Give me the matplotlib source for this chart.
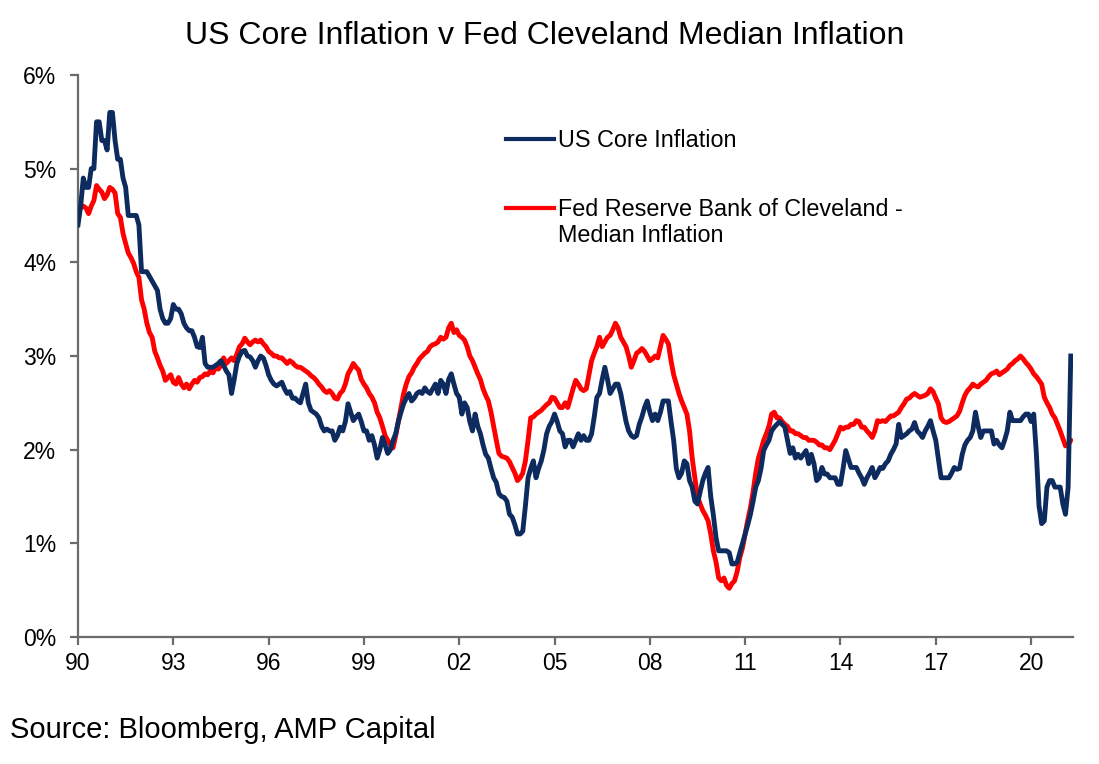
import numpy as np
import matplotlib
matplotlib.use("Agg")
import matplotlib.pyplot as plt
from matplotlib.lines import Line2D

# ---------------- data (monthly, Jan 1990 - Apr 2021, % y/y) ----------------
core_inflation = [
    4.4, 4.6, 4.9, 4.8, 4.8, 5.0, 5.0, 5.5, 5.5, 5.3, 5.3, 5.2,          # 1990
    5.6, 5.6, 5.3, 5.1, 5.1, 4.9, 4.8, 4.5, 4.5, 4.5, 4.5, 4.4,          # 1991
    3.9, 3.9, 3.9, 3.85, 3.8, 3.75, 3.7, 3.5, 3.4, 3.35, 3.35, 3.4,      # 1992
    3.55, 3.5, 3.5, 3.45, 3.35, 3.3, 3.27, 3.27, 3.2, 3.1, 3.09, 3.2,    # 1993
    2.92, 2.88, 2.88, 2.88, 2.9, 2.92, 2.95, 2.9, 2.84, 2.8, 2.6, 2.75,  # 1994
    2.92, 3.0, 3.05, 3.06, 3.0, 2.99, 2.95, 2.88, 2.95, 3.0, 2.98, 2.9,  # 1995
    2.8, 2.74, 2.7, 2.68, 2.7, 2.72, 2.65, 2.6, 2.62, 2.55, 2.55, 2.52,  # 1996
    2.5, 2.6, 2.7, 2.5, 2.42, 2.4, 2.38, 2.34, 2.25, 2.2, 2.22, 2.2,     # 1997
    2.2, 2.1, 2.15, 2.24, 2.2, 2.3, 2.49, 2.4, 2.31, 2.35, 2.38, 2.3,    # 1998
    2.2, 2.2, 2.1, 2.15, 2.05, 1.91, 2.0, 2.13, 2.05, 1.96, 2.0, 2.1,    # 1999
    2.17, 2.3, 2.4, 2.49, 2.55, 2.6, 2.52, 2.55, 2.6, 2.62, 2.6, 2.66,   # 2000
    2.62, 2.6, 2.65, 2.7, 2.6, 2.74, 2.7, 2.6, 2.75, 2.81, 2.7, 2.6,     # 2001
    2.56, 2.38, 2.5, 2.45, 2.3, 2.2, 2.38, 2.25, 2.17, 2.05, 1.95, 1.91, # 2002
    1.8, 1.7, 1.65, 1.53, 1.5, 1.49, 1.45, 1.31, 1.28, 1.2, 1.1, 1.1,    # 2003
    1.13, 1.4, 1.7, 1.8, 1.88, 1.7, 1.8, 1.88, 2.0, 2.17, 2.25, 2.3,     # 2004
    2.38, 2.3, 2.2, 2.17, 2.03, 2.1, 2.1, 2.03, 2.1, 2.17, 2.1, 2.15,    # 2005
    2.1, 2.1, 2.17, 2.35, 2.56, 2.6, 2.75, 2.88, 2.75, 2.6, 2.65, 2.7,   # 2006
    2.7, 2.6, 2.45, 2.3, 2.2, 2.15, 2.13, 2.15, 2.27, 2.35, 2.45, 2.52,  # 2007
    2.4, 2.31, 2.38, 2.31, 2.4, 2.52, 2.52, 2.52, 2.3, 2.1, 1.8, 1.7,    # 2008
    1.75, 1.88, 1.85, 1.67, 1.6, 1.45, 1.42, 1.55, 1.67, 1.75, 1.81, 1.5,# 2009
    1.3, 1.06, 0.92, 0.92, 0.92, 0.92, 0.9, 0.78, 0.78, 0.8, 0.9, 1.0,   # 2010
    1.1, 1.2, 1.31, 1.45, 1.6, 1.67, 1.8, 1.99, 2.05, 2.1, 2.2, 2.24,    # 2011
    2.27, 2.3, 2.27, 2.24, 2.1, 1.96, 2.02, 1.91, 1.95, 1.91, 1.95, 1.99,# 2012
    1.85, 1.95, 1.85, 1.67, 1.7, 1.81, 1.74, 1.74, 1.7, 1.7, 1.7, 1.63,  # 2013
    1.63, 1.8, 1.99, 1.9, 1.81, 1.81, 1.81, 1.75, 1.7, 1.63, 1.7, 1.75,  # 2014
    1.81, 1.7, 1.75, 1.81, 1.8, 1.85, 1.88, 1.95, 2.0, 2.06, 2.27, 2.13, # 2015
    2.15, 2.17, 2.2, 2.22, 2.29, 2.2, 2.17, 2.13, 2.2, 2.25, 2.31, 2.2,  # 2016
    2.1, 1.9, 1.7, 1.7, 1.7, 1.7, 1.75, 1.81, 1.79, 1.8, 1.95, 2.05,     # 2017
    2.1, 2.13, 2.2, 2.4, 2.25, 2.13, 2.2, 2.2, 2.2, 2.2, 2.06, 2.1,      # 2018
    2.05, 2.02, 2.1, 2.2, 2.4, 2.31, 2.31, 2.31, 2.31, 2.35, 2.38, 2.38, # 2019
    2.3, 2.38, 1.96, 1.4, 1.21, 1.24, 1.6, 1.67, 1.67, 1.6, 1.6, 1.6,    # 2020
    1.42, 1.31, 1.6, 3.0,                                                # 2021
]

median_inflation = [
    4.55, 4.58, 4.6, 4.58, 4.52, 4.6, 4.66, 4.82, 4.78, 4.75, 4.68, 4.72, # 1990
    4.8, 4.78, 4.74, 4.52, 4.48, 4.31, 4.2, 4.1, 4.05, 3.99, 3.9, 3.84,   # 1991
    3.6, 3.5, 3.35, 3.25, 3.2, 3.05, 2.98, 2.9, 2.84, 2.74, 2.77, 2.8,    # 1992
    2.72, 2.7, 2.77, 2.7, 2.66, 2.7, 2.65, 2.7, 2.74, 2.72, 2.77, 2.78,   # 1993
    2.81, 2.8, 2.84, 2.82, 2.88, 2.86, 2.9, 2.98, 2.92, 2.95, 2.98, 2.95, # 1994
    3.02, 3.1, 3.13, 3.19, 3.15, 3.12, 3.15, 3.17, 3.15, 3.17, 3.13, 3.1, # 1995
    3.05, 3.03, 3.0, 3.0, 2.98, 2.98, 2.95, 2.92, 2.95, 2.93, 2.9, 2.88,  # 1996
    2.88, 2.86, 2.84, 2.82, 2.79, 2.77, 2.74, 2.7, 2.67, 2.63, 2.61, 2.63,# 1997
    2.6, 2.55, 2.54, 2.6, 2.63, 2.7, 2.81, 2.86, 2.92, 2.88, 2.85, 2.75,  # 1998
    2.7, 2.66, 2.6, 2.56, 2.5, 2.4, 2.34, 2.25, 2.15, 2.1, 2.05, 2.02,    # 1999
    2.15, 2.3, 2.45, 2.6, 2.7, 2.78, 2.82, 2.88, 2.92, 2.97, 3.0, 3.03,   # 2000
    3.05, 3.1, 3.12, 3.13, 3.15, 3.2, 3.18, 3.2, 3.3, 3.35, 3.25, 3.28,   # 2001
    3.22, 3.2, 3.17, 3.1, 3.0, 2.95, 2.88, 2.81, 2.75, 2.65, 2.58, 2.52,  # 2002
    2.4, 2.25, 2.1, 1.96, 1.93, 1.92, 1.91, 1.87, 1.81, 1.75, 1.67, 1.7,  # 2003
    1.75, 1.88, 2.1, 2.34, 2.35, 2.38, 2.4, 2.42, 2.45, 2.48, 2.5, 2.56,  # 2004
    2.55, 2.5, 2.45, 2.45, 2.5, 2.45, 2.55, 2.65, 2.74, 2.7, 2.65, 2.63,  # 2005
    2.65, 2.8, 2.95, 3.03, 3.1, 3.2, 3.1, 3.15, 3.2, 3.22, 3.28, 3.35,    # 2006
    3.3, 3.2, 3.15, 3.1, 3.0, 2.88, 2.95, 3.03, 3.05, 3.08, 3.05, 3.0,    # 2007
    2.95, 2.97, 3.0, 2.98, 3.1, 3.22, 3.18, 3.13, 2.95, 2.8, 2.7, 2.6,    # 2008
    2.52, 2.45, 2.38, 2.2, 1.91, 1.7, 1.5, 1.42, 1.35, 1.3, 1.24, 1.1,    # 2009
    0.92, 0.8, 0.63, 0.6, 0.63, 0.55, 0.52, 0.57, 0.6, 0.7, 0.85, 0.95,   # 2010
    1.1, 1.25, 1.38, 1.55, 1.75, 1.91, 2.0, 2.1, 2.17, 2.25, 2.38, 2.4,   # 2011
    2.34, 2.34, 2.3, 2.27, 2.25, 2.2, 2.2, 2.17, 2.17, 2.15, 2.13, 2.13,  # 2012
    2.1, 2.1, 2.1, 2.08, 2.05, 2.05, 2.02, 2.02, 2.0, 2.05, 2.1, 2.17,    # 2013
    2.24, 2.22, 2.24, 2.24, 2.27, 2.27, 2.31, 2.3, 2.24, 2.24, 2.2, 2.17, # 2014
    2.13, 2.2, 2.31, 2.3, 2.31, 2.3, 2.33, 2.36, 2.36, 2.38, 2.4, 2.45,   # 2015
    2.49, 2.54, 2.55, 2.58, 2.6, 2.58, 2.56, 2.57, 2.58, 2.6, 2.65, 2.62, # 2016
    2.55, 2.49, 2.34, 2.3, 2.29, 2.3, 2.32, 2.34, 2.36, 2.41, 2.5, 2.58,  # 2017
    2.63, 2.66, 2.7, 2.68, 2.67, 2.7, 2.72, 2.74, 2.78, 2.81, 2.82, 2.84, # 2018
    2.8, 2.82, 2.84, 2.86, 2.9, 2.92, 2.95, 2.97, 3.0, 2.97, 2.93, 2.9,   # 2019
    2.86, 2.81, 2.78, 2.74, 2.7, 2.56, 2.5, 2.45, 2.38, 2.34, 2.27, 2.2,  # 2020
    2.12, 2.04, 2.05, 2.1,                                                # 2021
]

start_year = 1990
tick_years = [1990, 1993, 1996, 1999, 2002, 2005, 2008, 2011, 2014, 2017, 2020]
tick_labels = ["90", "93", "96", "99", "02", "05", "08", "11", "14", "17", "20"]
y_ticks = [0, 1, 2, 3, 4, 5, 6]
y_labels = ["0%", "1%", "2%", "3%", "4%", "5%", "6%"]

title = "US Core Inflation v Fed Cleveland Median Inflation"
label_core = "US Core Inflation"
label_median_1 = "Fed Reserve Bank of Cleveland -"
label_median_2 = "Median Inflation"
source = "Source: Bloomberg, AMP Capital"

# ---------------- style ----------------
BLUE = "#0d2b5e"
RED = "#ff0000"
AXIS = "#6b6b6b"
FONT = ["Liberation Sans", "Arial", "DejaVu Sans"]
plt.rcParams["font.family"] = FONT

W, H = 1099, 764
fig = plt.figure(figsize=(W / 100, H / 100), dpi=100)
ax = fig.add_axes([78 / W, 1 - 637 / H, (1073 - 78) / W, (637 - 75) / H])

months = start_year + np.arange(len(core_inflation)) / 12.0
ax.plot(months, median_inflation, color=RED, lw=3.5, solid_joinstyle="round", zorder=2)
ax.plot(months, core_inflation, color=BLUE, lw=3.5, solid_joinstyle="round", zorder=3)

ax.set_xlim(1990.0, 2021.32)
ax.set_ylim(0, 6)
ax.set_xticks(tick_years)
ax.set_xticklabels(tick_labels)
ax.set_yticks(y_ticks)
ax.set_yticklabels(y_labels)

for s in ["top", "right"]:
    ax.spines[s].set_visible(False)
for s in ["left", "bottom"]:
    ax.spines[s].set_color(AXIS)
    ax.spines[s].set_linewidth(1.6)
ax.tick_params(axis="both", colors=AXIS, width=1.6, length=5.5, labelcolor="#000000",
               labelsize=16.5)
ax.tick_params(axis="y", pad=10)
ax.tick_params(axis="x", pad=5)

# legend (two blocks so the red handle sits on the first line of its label)
leg1 = ax.legend([Line2D([], [], color=BLUE, lw=3)], [label_core],
                 loc="upper left", bbox_to_anchor=(506 / W, 1 - 129 / H),
                 bbox_transform=fig.transFigure, frameon=False, fontsize=16.8,
                 handlelength=2.05, handletextpad=0.2, borderpad=0, borderaxespad=0)
ax.add_artist(leg1)
ax.legend([Line2D([], [], color=RED, lw=3), Line2D([], [], lw=0)],
          [label_median_1, label_median_2],
          loc="upper left", bbox_to_anchor=(506 / W, 1 - 198 / H),
          bbox_transform=fig.transFigure, frameon=False, fontsize=16.8,
          handlelength=2.05, handletextpad=0.2, borderpad=0, borderaxespad=0,
          labelspacing=0.14)

fig.text(545 / W, 1 - 44 / H, title, ha="center", va="baseline", fontsize=23, color="#000000")
fig.text(10 / W, 1 - 738 / H, source, ha="left", va="baseline", fontsize=21, color="#000000")

fig.savefig("out.png", dpi=100, facecolor="white")
